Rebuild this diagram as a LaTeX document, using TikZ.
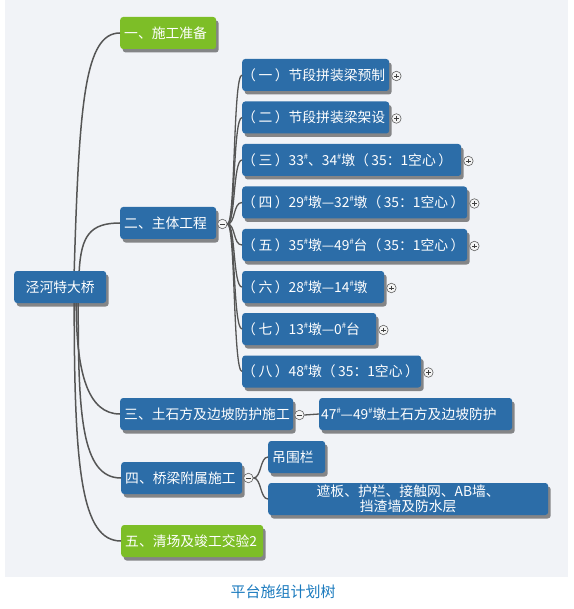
\documentclass[tikz,border=0pt]{standalone}
\usepackage{fontspec}
\setmainfont{Noto Sans CJK SC}
\usetikzlibrary{shadows,calc}
\definecolor{boxblue}{HTML}{2C6DA8}
\definecolor{boxgreen}{HTML}{7DBE27}
\definecolor{panelbg}{HTML}{F1F3F7}
\definecolor{linegray}{HTML}{555555}
\definecolor{captionblue}{HTML}{1A7ABE}
\newcommand{\sh}{\raisebox{0.42em}{\fontsize{7.5}{7.5}\selectfont\#}}
\newcommand{\lb}[2]{\makebox[#1][l]{#2}}
\newcommand{\pa}[1]{（\hspace{2.5pt}#1\hspace{2.5pt}）}
\begin{document}
\begin{tikzpicture}[x=1pt,y=-1pt,
  box/.style={rectangle, rounded corners=3pt, fill=boxblue, text=white,
    font=\fontsize{13.8}{16}\selectfont, minimum height=32pt,
    inner xsep=4pt, inner ysep=0pt, anchor=west,
    drop shadow={shadow xshift=2.5pt, shadow yshift=-3.5pt, opacity=0.45, fill=black}},
  greenbox/.style={box, fill=boxgreen},
  conn/.style={draw=linegray, line width=1.5pt},
  tog/.style={circle, draw=gray!75!black, fill=white!92!gray, line width=0.6pt,
    minimum size=9.5pt, inner sep=0pt},
  togm/.style={tog, path picture={\draw[gray!50!black, line width=0.7pt]
    ($(path picture bounding box.center)+(-2.3,0)$) -- +(4.6,0);}},
  togp/.style={tog, path picture={\draw[gray!50!black, line width=0.7pt]
    ($(path picture bounding box.center)+(-2.3,0)$) -- +(4.6,0)
    ($(path picture bounding box.center)+(0,-2.3)$) -- +(0,4.6);}}
]
\path[use as bounding box] (0,0) rectangle (573,609);
\fill[panelbg] (5,0) rectangle (568,577);

% nodes
\node[box] (root) at (14,287) {\makebox[84pt][c]{泾河特大桥}};
\node[greenbox] (n1) at (120,33) {\lb{88pt}{一、施工准备}};
\node[box] (n2) at (120,223) {\lb{88pt}{二、主体工程}};
\node[box, inner xsep=0pt] (c1) at (242,75) {\lb{147pt}{\pa{一}节段拼装梁预制}};
\node[box, inner xsep=0pt] (c2) at (242,117.5) {\lb{147pt}{\pa{二}节段拼装梁架设}};
\node[box, inner xsep=0pt] (c3) at (242,160) {\lb{219pt}{\pa{三}33\sh、34\sh 墩\pa{35：1空心}}};
\node[box, inner xsep=0pt] (c4) at (242,202.5) {\lb{225pt}{\pa{四}29\sh 墩—32\sh 墩\pa{35：1空心}}};
\node[box, inner xsep=0pt] (c5) at (242,245) {\lb{225pt}{\pa{五}35\sh 墩—49\sh 台\pa{35：1空心}}};
\node[box, inner xsep=0pt] (c6) at (242,287) {\lb{142pt}{\pa{六}28\sh 墩—14\sh 墩}};
\node[box, inner xsep=0pt] (c7) at (242,329) {\lb{134pt}{\pa{七}13\sh 墩—0\sh 台}};
\node[box, inner xsep=0pt] (c8) at (242,371.5) {\lb{179pt}{\pa{八}48\sh 墩\pa{35：1空心}}};
\node[box] (n3) at (120,414) {\lb{165pt}{三、土石方及边坡防护施工}};
\node[box, inner xsep=2pt] (n3a) at (319,414) {\lb{189pt}{47\sh—49\sh 墩土石方及边坡防护}};
\node[box] (n4) at (121,478) {\lb{113pt}{四、桥梁附属施工}};
\node[box] (n4a) at (268,457) {\lb{49pt}{吊围栏}};
\node[box, align=center, text width=272pt, font=\fontsize{13.8}{14.5}\selectfont] (n4b) at (268,499) {遮板、护栏、接触网、AB墙、\\挡渣墙及防水层};
\node[greenbox] (n5) at (121,541) {\lb{134pt}{五、清场及竣工交验2}};

% toggles
\node[togm] (t2) at ($(n2.east)+(6,1)$) {};
\node[togm] (t3) at ($(n3.east)+(6,1)$) {};
\node[togm] (t4) at ($(n4.east)+(6,0)$) {};
\foreach \c in {c1,c2,c3,c4,c5,c6,c7,c8}
  \node[togp] (p\c) at ($(\c.east)+(7,1)$) {};

% connectors
\draw[conn] ($(root.north)+(14,0)$) .. controls +(5,-170) and +(-35,0) .. (n1.west);
\draw[conn] ($(root.north)+(19,0)$) .. controls +(2,-35) and +(-30,0) .. (n2.west);
\draw[conn] ($(root.south)+(16,0)$) .. controls +(0,70) and +(-32,0) .. (n3.west);
\draw[conn] ($(root.south)+(18,0)$) .. controls +(0,110) and +(-40,0) .. (n4.west);
\draw[conn] ($(root.south)+(14,0)$) .. controls +(0,165) and +(-40,0) .. (n5.west);
\foreach \c in {c1,c2,c3,c4,c5,c6,c7,c8}
  \draw[conn, line width=1.3pt] (t2.east) .. controls +(8,0) and +(-9,0) .. (\c.west);
\draw[conn, line width=1.3pt] (t3.east) -- (n3a.west);
\draw[conn, line width=1.3pt] (t4.east) .. controls +(8,0) and +(-8,0) .. (n4a.west);
\draw[conn, line width=1.3pt] (t4.east) .. controls +(8,0) and +(-8,0) .. (n4b.west);

% caption
\node[font=\fontsize{15}{18}\selectfont, text=captionblue] (cap) at (283,592) {平台施组计划树};
\end{tikzpicture}
\end{document}
